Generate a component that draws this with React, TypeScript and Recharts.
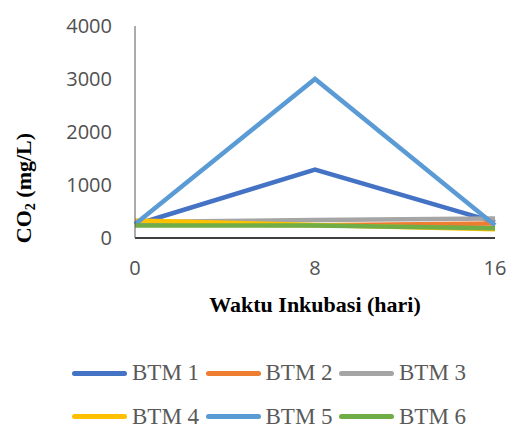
import React from "react";
import { LineChart, Line, XAxis, YAxis, Label } from "recharts";

const days = [0, 8, 16];
const btm1 = [250, 1290, 300];
const btm2 = [270, 240, 275];
const btm3 = [300, 340, 370];
const btm4 = [330, 245, 165];
const btm5 = [260, 3000, 240];
const btm6 = [235, 235, 185];
const yTicks = [0, 1000, 2000, 3000, 4000];

const series = [
  { key: "BTM 1", values: btm1, color: "#4472C4" },
  { key: "BTM 2", values: btm2, color: "#ED7D31" },
  { key: "BTM 3", values: btm3, color: "#A5A5A5" },
  { key: "BTM 4", values: btm4, color: "#FFC000" },
  { key: "BTM 5", values: btm5, color: "#5B9BD5" },
  { key: "BTM 6", values: btm6, color: "#70AD47" },
];

const data = days.map((d, i) => {
  const row: Record<string, number> = { day: d };
  series.forEach((s) => (row[s.key] = s.values[i]));
  return row;
});

const tickFont = { fontFamily: "Open Sans", fontSize: 20, fill: "#505050" };

const YTitle = () => (
  <text
    x={31}
    y={188}
    transform="rotate(-90 31 188)"
    textAnchor="middle"
    fontFamily="Liberation Serif"
    fontWeight="bold"
    fontSize={22}
    fill="#000"
  >
    CO<tspan dy={4} fontSize={14}>2</tspan>
    <tspan dy={-4}> (mg/L)</tspan>
  </text>
);

const App: React.FC = () => {
  return (
    <div style={{ position: "absolute", left: 0, top: 0, width: 509, height: 428 }}>
      <LineChart
        width={509}
        height={428}
        data={data}
        margin={{ top: 26, right: 14, left: 0, bottom: 100 }}
      >
        <XAxis
          dataKey="day"
          type="number"
          domain={[0, 16]}
          ticks={days}
          tickLine={false}
          tickSize={0}
          tickMargin={23}
          height={90}
          stroke="#404040"
          strokeWidth={2}
          tick={tickFont}
        >
          <Label
            value="Waktu Inkubasi (hari)"
            position="insideBottom"
            offset={16}
            style={{ fontFamily: "Liberation Serif", fontWeight: "bold", fontSize: 22, fill: "#000" }}
          />
        </XAxis>
        <YAxis
          domain={[0, 4000]}
          ticks={yTicks}
          width={135}
          tickLine={false}
          tickSize={0}
          tickMargin={23}
          stroke="#595959"
          tick={tickFont}
          label={<YTitle />}
        />
        {series.map((s) => (
          <Line
            key={s.key}
            dataKey={s.key}
            stroke={s.color}
            strokeWidth={4.5}
            dot={false}
            type="linear"
            isAnimationActive={false}
          />
        ))}
      </LineChart>
      {series.map((s, i) => (
        <div
          key={s.key}
          style={{
            position: "absolute",
            left: 72 + (i % 3) * 133.5,
            top: 373 + Math.floor(i / 3) * 43.5 - 15,
            height: 30,
            display: "flex",
            alignItems: "center",
            fontFamily: "Liberation Serif",
            fontSize: 23,
            color: "#595959",
            whiteSpace: "nowrap",
          }}
        >
          <span
            style={{
              display: "inline-block",
              width: 55,
              height: 5,
              borderRadius: 3,
              background: s.color,
              marginRight: 5,
            }}
          />
          {s.key}
        </div>
      ))}
    </div>
  );
};

export default App;
